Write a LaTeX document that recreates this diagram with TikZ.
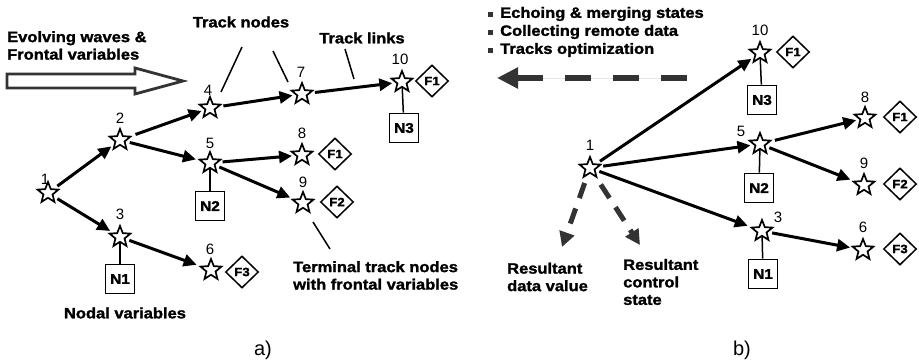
\documentclass[tikz,border=0pt]{standalone}
\usepackage{fontspec}
\setmainfont{Liberation Sans}
\newfontfamily\bfam{Liberation Sans}[FakeStretch=1.1,BoldFeatures={FakeBold=1.6}]
\usetikzlibrary{shapes.geometric,arrows.meta}
\definecolor{dg}{HTML}{333333}
\begin{document}
\begin{tikzpicture}[x=1pt,y=-1pt,
  st/.style={star,star points=5,star point ratio=2.3,minimum size=22pt,inner sep=0pt,draw=black,line width=1.7pt,fill=white},
  num/.style={font=\fontsize{15}{17}\selectfont,inner sep=0pt},
  fbox/.style={diamond,minimum width=33pt,minimum height=32pt,inner sep=0pt,draw=black,line width=1.5pt,font=\bfam\bfseries\fontsize{12}{14}\selectfont},
  nbox/.style={rectangle,minimum size=29pt,inner sep=0pt,draw=black,line width=1.7pt,font=\bfam\bfseries\fontsize{14}{16}\selectfont},
  lab/.style={font=\bfam\bfseries\fontsize{15}{17.5}\selectfont,inner sep=0pt,align=left},
  captxt/.style={font=\fontsize{20}{22}\selectfont,inner sep=0pt},
  arr/.style={-{Triangle[length=13pt,width=12pt]},line width=3pt,shorten <=4pt,shorten >=3pt},
  tie/.style={line width=1.5pt},
  ptr/.style={line width=1.5pt},
  darr/.style={-{Triangle[length=15pt,width=15pt]},draw=dg,line width=5pt,dash pattern=on 16pt off 11pt,shorten <=8pt},
  blt/.style={rectangle,fill=dg,minimum size=5pt,inner sep=0pt}]
\useasboundingbox (0,0) rectangle (919,364);

% ---------- panel a ----------
\node[st] (s1) at (48,193) {};
\node[st] (s2) at (120,140) {};
\node[st] (s4) at (210,108) {};
\node[st] (s7) at (302,94) {};
\node[st] (s10) at (402,82) {};
\node[st] (s5) at (210,163) {};
\node[st] (s8) at (302,155) {};
\node[st] (s9) at (303,203) {};
\node[st] (s3) at (120,237) {};
\node[st] (s6) at (211,270) {};

\node[num] (l1) at (45,179) {1};
\node[num] (l2) at (120,118) {2};
\node[num] (l4) at (208,90) {4};
\node[num] (l7) at (301,72) {7};
\node[num] (l10) at (400,59) {10};
\node[num] (l5) at (210,143) {5};
\node[num] (l8) at (302,133) {8};
\node[num] (l9) at (303,182) {9};
\node[num] (l3) at (120,214) {3};
\node[num] (l6) at (210,249) {6};

\node[fbox] (d10) at (432,81) {F1};
\node[fbox] (d8) at (335,154) {F1};
\node[fbox] (d9) at (337,202) {F2};
\node[fbox] (d6) at (242,272) {F3};

\node[nbox] (n3) at (404,128) {N3};
\node[nbox] (n2) at (210,206) {N2};
\node[nbox] (n1) at (120,279) {N1};

\draw[tie] (s10) -- (n3);
\draw[tie] (s5) -- (n2);
\draw[tie] (s3) -- (n1);

\draw[arr] (s1) -- (s2);
\draw[arr] (s2) -- (s4);
\draw[arr] (s2) -- (s5);
\draw[arr] (s4) -- (s7);
\draw[arr] (s7) -- (s10);
\draw[arr] (s5) -- (s8);
\draw[arr] (s5) -- (s9);
\draw[arr] (s1) -- (s3);
\draw[arr] (s3) -- (s6);

\node[lab,anchor=west] (tev) at (7,45.5) {Evolving waves \&\\Frontal variables};
\draw[draw=dg,line width=2.8pt,line join=miter] (7,74) -- (135,74) -- (135,68) -- (183,81) -- (135,94) -- (135,88) -- (7,88) -- cycle;

\node[lab] (ttn) at (241,22) {Track nodes};
\node[lab] (ttl) at (362,38) {Track links};
\node[lab,anchor=west] (tterm) at (293,275.5) {Terminal track nodes\\with frontal variables};
\node[lab] (tnod) at (125,313) {Nodal variables};

\coordinate (p1a) at (242,47); \coordinate (p1b) at (221,92);
\coordinate (p2a) at (273,51); \coordinate (p2b) at (288,82);
\coordinate (p3a) at (345,49); \coordinate (p3b) at (354,79);
\coordinate (p4a) at (313,222); \coordinate (p4b) at (330,249);
\draw[ptr] (p1a) -- (p1b);
\draw[ptr] (p2a) -- (p2b);
\draw[ptr] (p3a) -- (p3b);
\draw[ptr] (p4a) -- (p4b);

\node[captxt] (ca) at (263,350) {a)};

% ---------- panel b ----------
\node[st] (b1) at (590,168) {};
\node[st] (b10) at (760,53) {};
\node[st] (b5) at (760,144) {};
\node[st] (b8) at (865,118) {};
\node[st] (b9) at (864,185) {};
\node[st] (b3) at (762,231) {};
\node[st] (b6) at (863,250) {};

\node[num] (m1) at (590,145) {1};
\node[num] (m10) at (760,30) {10};
\node[num] (m5) at (741,131) {5};
\node[num] (m8) at (865,97) {8};
\node[num] (m9) at (864,163) {9};
\node[num] (m3) at (778,217) {3};
\node[num] (m6) at (863,227) {6};

\node[fbox] (e10) at (793,52) {F1};
\node[fbox] (e8) at (900,117) {F1};
\node[fbox] (e9) at (900,184) {F2};
\node[fbox] (e6) at (900,249) {F3};

\node[nbox] (o3) at (762,100) {N3};
\node[nbox] (o2) at (759,188) {N2};
\node[nbox] (o1) at (763,274) {N1};

\draw[tie] (b10) -- (o3);
\draw[tie] (b5) -- (o2);
\draw[tie] (b3) -- (o1);

\draw[arr] (b1) -- (b10);
\draw[arr] (b1) -- (b5);
\draw[arr] (b1) -- (b3);
\draw[arr] (b5) -- (b8);
\draw[arr] (b5) -- (b9);
\draw[arr] (b3) -- (b6);

\coordinate (ra) at (562,247);
\coordinate (rb) at (640,245);
\draw[darr] (b1) -- (ra);
\draw[darr] (b1) -- (rb);

\node[lab,anchor=west] (trd) at (507,277) {Resultant\\data value};
\node[lab,anchor=west] (trc) at (623,282) {Resultant\\control\\state};

\node[blt] (k1) at (490,14) {};
\node[blt] (k2) at (490,32) {};
\node[blt] (k3) at (490,50) {};
\node[lab,anchor=west] (t1) at (500,14) {Echoing \& merging states};
\node[lab,anchor=west] (t2) at (500,32) {Collecting remote data};
\node[lab,anchor=west] (t3) at (500,50) {Tracks optimization};

\coordinate (ba) at (687,78);
\coordinate (bb) at (497,78);
\draw[draw=dg,fill=dg,line width=6pt,dash pattern=on 26pt off 22pt,-{Triangle[length=21pt,width=20pt]}] (ba) -- (bb);

\node[captxt] (cb) at (742,350) {b)};
\end{tikzpicture}
\end{document}
